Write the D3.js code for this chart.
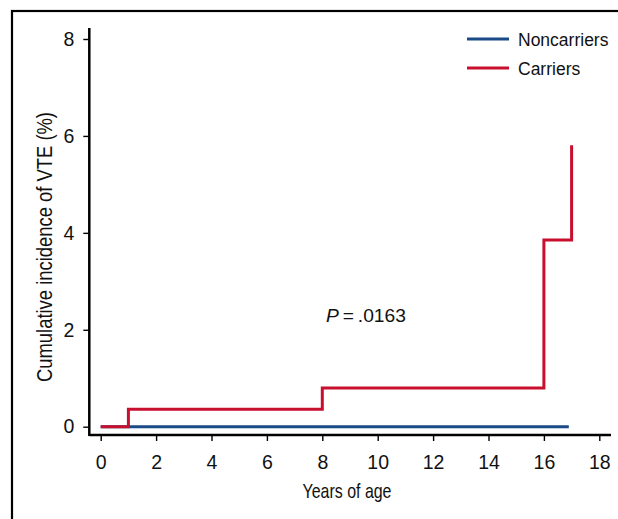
<!DOCTYPE html>
<html>
<head>
<meta charset="utf-8">
<script src="https://cdn.jsdelivr.net/npm/d3@7"></script>
<style>
  body { margin: 0; background: #fff; }
  text { font-family: "Liberation Sans", Arial, sans-serif; fill: #111; }
</style>
</head>
<body>
<div id="chart"></div>
<script>
var w = 618, h = 519;

// step data (years of age, cumulative incidence %)
var carriersX = [0, 1, 8, 16, 17];
var carriersY = [0, 0.36, 0.8, 3.85, 5.81];
var noncarriersX = [0, 16.9];
var noncarriersY = [0, 0];
var xTicks = [0, 2, 4, 6, 8, 10, 12, 14, 16, 18];
var yTicks = [0, 2, 4, 6, 8];
var seriesNames = ["Noncarriers", "Carriers"];
var seriesColors = ["#1b4b87", "#c8102e"];

var x = d3.scaleLinear().domain([0, 18]).range([100.7, 599.3]);
var y = d3.scaleLinear().domain([0, 8]).range([426.7, 39]);

var svg = d3.select("#chart").append("svg")
	.attr("width", w)
	.attr("height", h);

// outer frame (cut at right and bottom like the source)
svg.append("rect")
	.attr("x", 12).attr("y", 11)
	.attr("width", 700).attr("height", 600)
	.attr("fill", "none")
	.attr("stroke", "#000")
	.attr("stroke-width", 2.2);

// axes
var xAxis = svg.append("g")
	.attr("transform", "translate(0,435)")
	.call(d3.axisBottom(x).tickValues(xTicks).tickSize(6).tickPadding(14).tickSizeOuter(0));
xAxis.select(".domain").attr("d", "M89.3,0H611").attr("stroke-width", 2.5);

var yAxis = svg.append("g")
	.attr("transform", "translate(89.3,0)")
	.call(d3.axisLeft(y).tickValues(yTicks).tickSize(6).tickPadding(9).tickSizeOuter(0));
yAxis.select(".domain").attr("d", "M0,28V436").attr("stroke-width", 2.5);

svg.selectAll(".tick line").attr("stroke", "#000").attr("stroke-width", 1.4);
svg.selectAll(".tick text")
	.style("font-size", "19.5px")
	.style("font-family", "'Liberation Sans', Arial, sans-serif")
	.style("fill", "#111");

// axis titles, condensed look
svg.append("text")
	.attr("x", 347).attr("y", 498)
	.attr("text-anchor", "middle")
	.style("font-size", "21px")
	.attr("textLength", 89)
	.attr("lengthAdjust", "spacingAndGlyphs")
	.text("Years of age");

svg.append("text")
	.attr("transform", "translate(52,247) rotate(-90)")
	.attr("text-anchor", "middle")
	.style("font-size", "22px")
	.attr("textLength", 270)
	.attr("lengthAdjust", "spacingAndGlyphs")
	.text("Cumulative incidence of VTE (%)");

// step lines
var line = d3.line()
	.x(function(d) { return x(d[0]); })
	.y(function(d) { return y(d[1]); })
	.curve(d3.curveStepAfter);

var nonData = noncarriersX.map(function(v, i) { return [v, noncarriersY[i]]; });
var carData = carriersX.map(function(v, i) { return [v, carriersY[i]]; });

svg.append("path")
	.attr("d", line(nonData))
	.attr("fill", "none")
	.attr("stroke", seriesColors[0])
	.attr("stroke-width", 3);

svg.append("path")
	.attr("d", line(carData))
	.attr("fill", "none")
	.attr("stroke", seriesColors[1])
	.attr("stroke-width", 3);

// P value
var pText = svg.append("text")
	.attr("x", 326).attr("y", 322)
	.style("font-size", "18px")
	.attr("textLength", 80)
	.attr("lengthAdjust", "spacingAndGlyphs");
pText.append("tspan").attr("font-style", "italic").text("P");
pText.append("tspan").text("\u2009=\u2009.0163");

// legend
var legend = svg.selectAll(".legend")
	.data(seriesNames)
	.enter()
	.append("g")
	.attr("class", "legend")
	.attr("transform", function(d, i) { return "translate(467," + (39 + i * 29) + ")"; });

legend.append("line")
	.attr("x1", 0).attr("x2", 42)
	.attr("y1", 0).attr("y2", 0)
	.attr("stroke", function(d, i) { return seriesColors[i]; })
	.attr("stroke-width", 3);

legend.append("text")
	.attr("x", 51).attr("y", 6.5)
	.style("font-size", "17.5px")
	.text(function(d) { return d; });
</script>
</body>
</html>
